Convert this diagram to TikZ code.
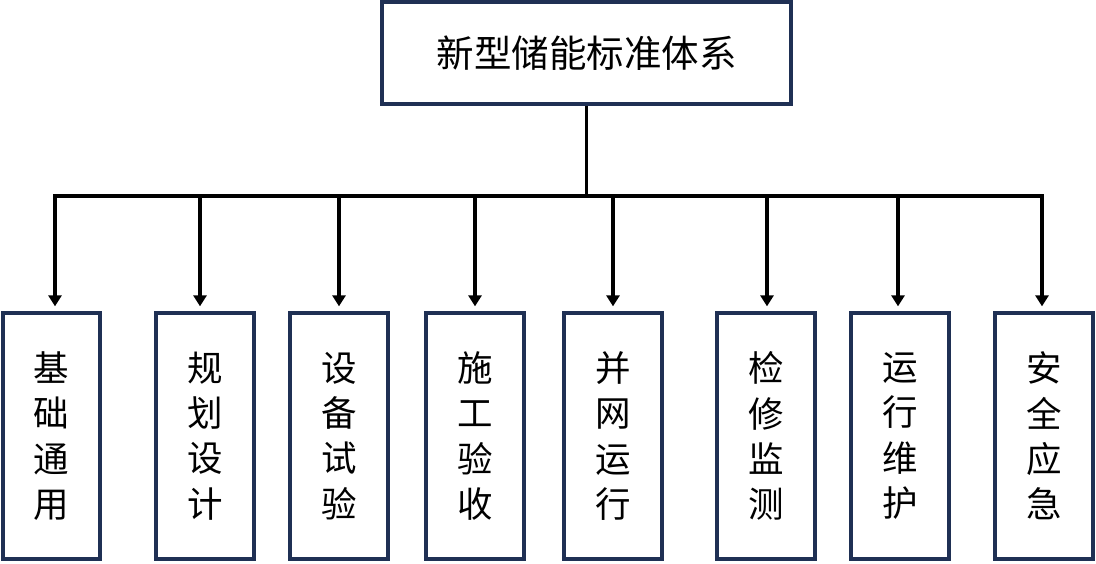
\documentclass[tikz,border=0pt]{standalone}
\usepackage{fontspec}
\newfontfamily\cjk{Noto Sans CJK SC}
\usetikzlibrary{arrows.meta}
\definecolor{boxblue}{RGB}{31,48,84}
\begin{document}
\begin{tikzpicture}[x=1pt,y=-1pt,
  topbox/.style={draw=boxblue, line width=3.8pt, inner sep=0pt, minimum width=409pt, minimum height=102pt, font=\cjk\fontsize{37.5}{40}\selectfont},
  subbox/.style={draw=boxblue, line width=3.8pt, inner sep=0pt, minimum width=97.5pt, minimum height=246.5pt, align=center, font=\cjk\fontsize{35.5}{45.3}\selectfont},
  conn/.style={line width=3.8pt, black},
  arr/.style={conn, shorten >=4.5pt, -{Triangle[width=13pt,length=11pt]}}]
\useasboundingbox (0,0) rectangle (1096,564);

\node[topbox] (top) at (586.5,53) {新型储能标准体系};

\node[subbox] (b1) at (51.5,436) {基\\础\\通\\用};
\node[subbox] (b2) at (205,436) {规\\划\\设\\计};
\node[subbox] (b3) at (339,436) {设\\备\\试\\验};
\node[subbox] (b4) at (475,436) {施\\工\\验\\收};
\node[subbox] (b5) at (613,436) {并\\网\\运\\行};
\node[subbox] (b6) at (766,436) {检\\修\\监\\测};
\node[subbox] (b7) at (900,436) {运\\行\\维\\护};
\node[subbox] (b8) at (1044,436) {安\\全\\应\\急};

\coordinate (busL) at (53.1,196);
\coordinate (busR) at (1043.9,196);
\coordinate (d1) at (55,196);
\coordinate (d2) at (200,196);
\coordinate (d3) at (339,196);
\coordinate (d4) at (475,196);
\coordinate (d5) at (613,196);
\coordinate (d6) at (767,196);
\coordinate (d7) at (898,196);
\coordinate (d8) at (1042,196);

\draw[conn] (top.south) -- (top.south |- busL);
\draw[conn] (busL) -- (busR);
\foreach \i in {1,...,8}{
  \draw[arr] ([yshift=-1.9pt]d\i) -- (d\i |- b\i.north);
}
\end{tikzpicture}
\end{document}
